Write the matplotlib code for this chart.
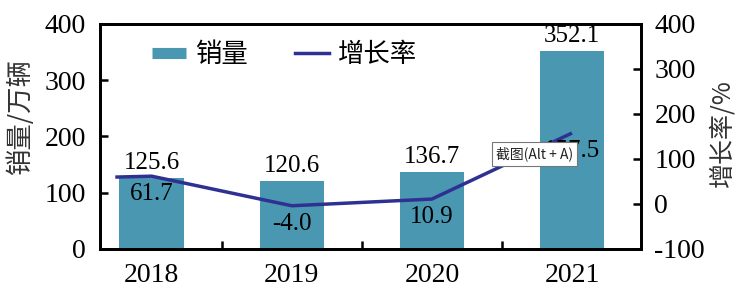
import numpy as np
import matplotlib.pyplot as plt
from matplotlib.lines import Line2D

plt.rcParams['axes.unicode_minus'] = False

# data
years = ['2018', '2019', '2020', '2021']
sales = [125.6, 120.6, 136.7, 352.1]          # 销量 / 万辆
growth = [61.7, -4.0, 10.9, 157.5]            # 增长率 / %

bar_color = '#4a97b1'
line_color = '#2e3192'
cjk = ['Noto Sans CJK SC', 'DejaVu Sans']
num_font = 'Liberation Serif'

fig = plt.figure(figsize=(7.51, 2.95), dpi=100)
ax = fig.add_axes([0.133, 0.156, 0.72, 0.763])
ax2 = ax.twinx()

x = np.arange(len(years))
ax.bar(x, sales, width=0.46, color=bar_color, zorder=1)
for xi, v in zip(x, sales):
    ax.annotate(f'{v:.1f}', (xi, v), xytext=(0, 3), textcoords='offset points',
                ha='center', va='bottom', fontsize=18, family=num_font)

# growth line (drawn with a short lead-in like the original)
ax2.plot(np.r_[x[0] - 0.26, x], np.r_[growth[0] - 2, growth], color=line_color, lw=2.5,
         solid_capstyle='butt', zorder=3)
for xi, v in zip(x, growth):
    ax2.annotate(f'{v:.1f}', (xi, v), xytext=(0, -13), textcoords='offset points',
                 ha='center', va='center', fontsize=18, family=num_font)

ax.set_xlim(-0.37, 3.49)
ax.set_ylim(0, 400)
ax2.set_ylim(-100, 400)
ax.set_yticks([0, 100, 200, 300, 400])
ax2.set_yticks([-100, 0, 100, 200, 300, 400])

ax.set_xticks(x)
ax.set_xticklabels(years)
ax.set_xticks(x[:-1] + 0.5, minor=True)
ax.tick_params(axis='x', which='major', length=0, pad=10, labelsize=20)
ax.tick_params(axis='x', which='minor', direction='in', length=6, width=1.8)
ax.tick_params(axis='y', direction='in', length=6, width=1.8, labelsize=20, pad=10)
ax2.tick_params(axis='y', direction='in', length=6, width=1.8, labelsize=20, pad=10)
for a in (ax, ax2):
    for lab in a.get_xticklabels() + a.get_yticklabels():
        lab.set_family(num_font)
    for sp in a.spines.values():
        sp.set_linewidth(2)

ax.set_ylabel('销量/万辆', family=cjk, fontsize=19, color='#333333', va='center')
ax.yaxis.set_label_coords(-0.147, 0.587)
ax2.set_ylabel('增长率/%', family=cjk, fontsize=18, color='#333333', va='center')
ax2.yaxis.set_label_coords(1.152, 0.516)

handles = [Line2D([], [], color=bar_color, lw=8, solid_capstyle='butt'),
           Line2D([], [], color=line_color, lw=2.5)]
ax.legend(handles, ['销量', '增长率'], loc='upper left', bbox_to_anchor=(0.053, 1.03),
          ncol=2, frameon=False, handlelength=1.27, handletextpad=0.35,
          columnspacing=1.8, prop={'family': cjk, 'size': 19})

# screenshot tooltip overlay present in the reference
fig.text(0.712, 0.478, '截图(Alt + A)', family=cjk, fontsize=10, color='#222222',
         ha='center', va='center', zorder=10,
         bbox=dict(boxstyle='square,pad=0.3', fc='white', ec='#777777', lw=0.8))

fig.savefig('out.png', dpi=100)
